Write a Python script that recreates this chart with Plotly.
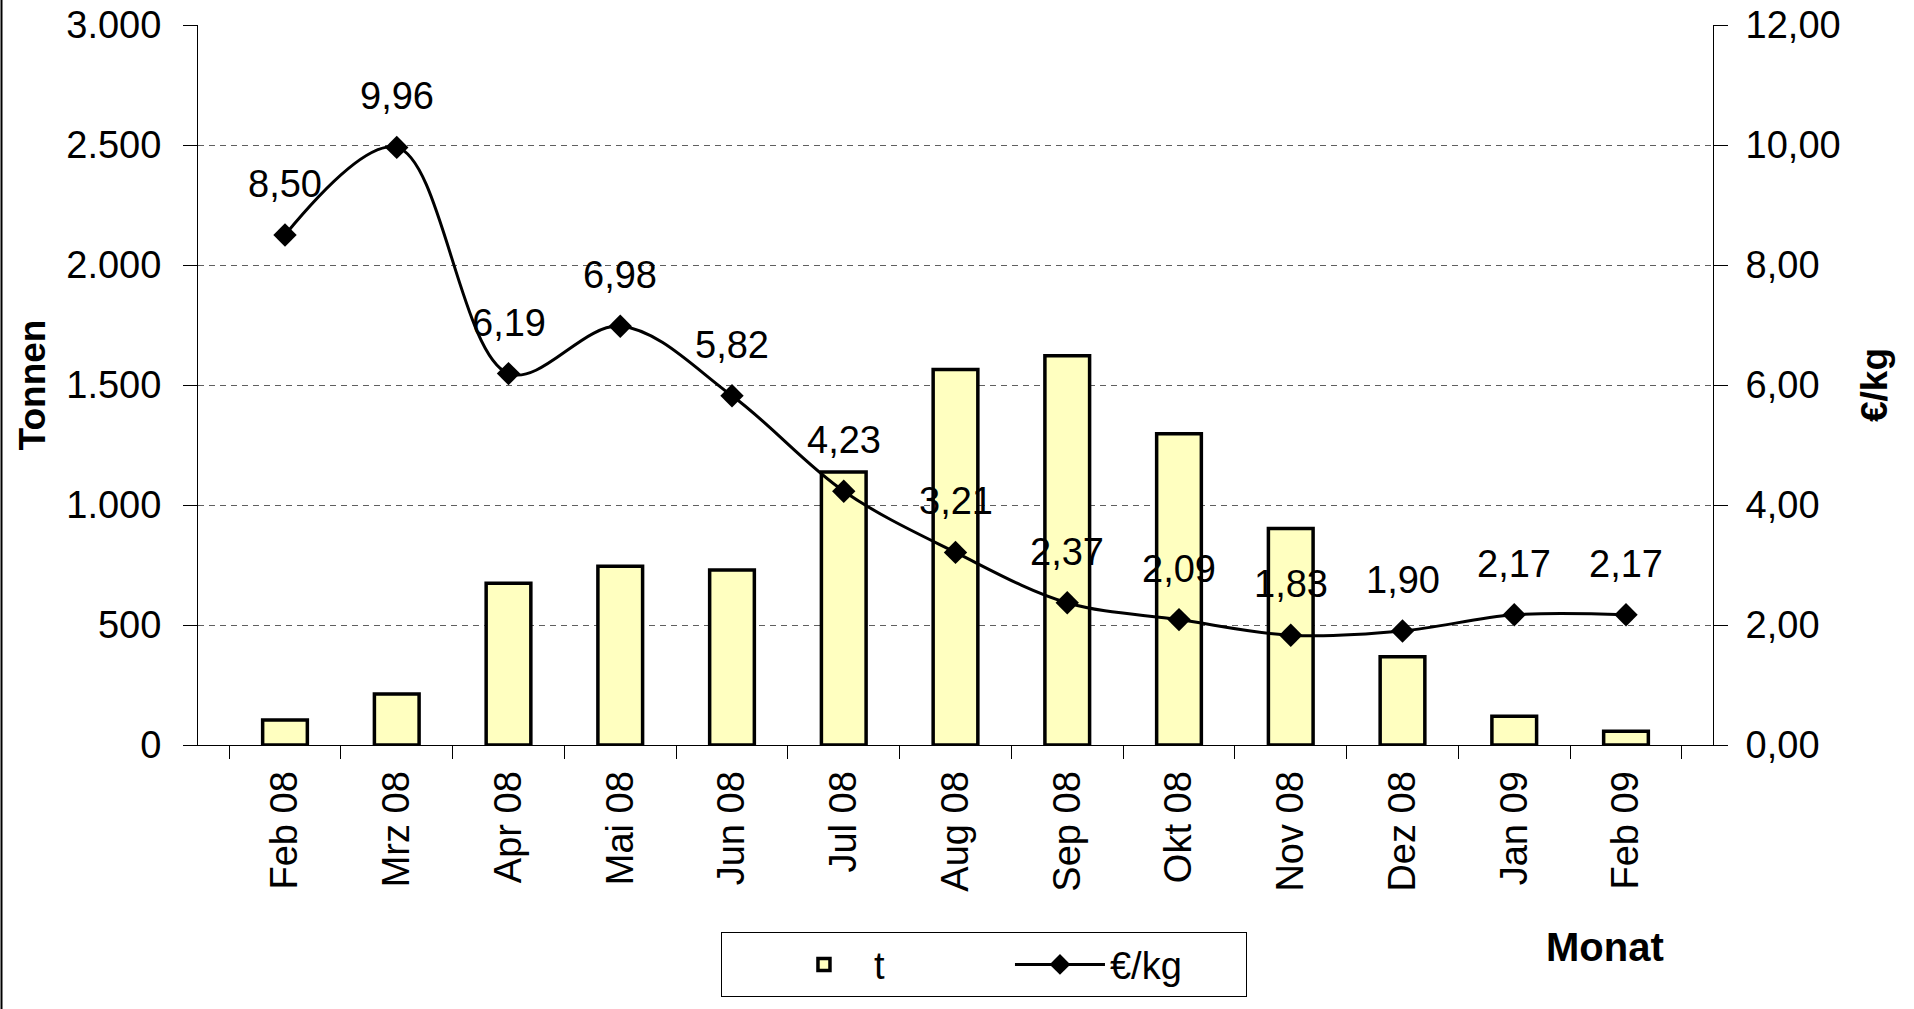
import plotly.graph_objects as go

monate = ["Feb 08", "Mrz 08", "Apr 08", "Mai 08", "Jun 08", "Jul 08", "Aug 08",
          "Sep 08", "Okt 08", "Nov 08", "Dez 08", "Jan 09", "Feb 09"]
tonnen = [104, 212, 674, 745, 729, 1138, 1565, 1622, 1297, 902, 368, 120, 57]
preis = [8.50, 9.96, 6.19, 6.98, 5.82, 4.23, 3.21, 2.37, 2.09, 1.83, 1.90, 2.17, 2.17]

schrift = "Liberation Sans, Arial, sans-serif"

fig = go.Figure()
fig.add_trace(go.Bar(x=monate, y=tonnen, name="t",
                     marker=dict(color="#FFFFC0", line=dict(color="black", width=3.5))))
fig.add_trace(go.Scatter(x=monate, y=preis, name="€/kg", yaxis="y2", mode="lines+markers",
                         line=dict(color="black", width=3, shape="spline", smoothing=1),
                         marker=dict(symbol="diamond", size=18, color="black")))

# Datenbeschriftungen ueber den Punkten
for m, p in zip(monate, preis):
    fig.add_annotation(x=m, y=p, yref="y2", text=f"{p:.2f}".replace(".", ","),
                       showarrow=False, yshift=51, font=dict(size=38))

fig.add_annotation(x=0.929, y=-0.28, xref="paper", yref="paper", text="<b>Monat</b>",
                   xanchor="center", yanchor="middle", showarrow=False, font=dict(size=40))

# linker Rahmen des Diagramms
fig.add_shape(type="line", xref="paper", yref="paper", x0=-0.1297, x1=-0.1297, y0=-0.37, y1=1.04,
              line=dict(color="black", width=2))

fig.update_layout(
    width=1914, height=1009,
    margin=dict(l=198, r=201, t=25, b=264),
    paper_bgcolor="white", plot_bgcolor="white",
    font=dict(family=schrift, size=38, color="black"),
    separators=",.",
    bargap=0.6,
    showlegend=True,
    legend=dict(orientation="h", x=0.519, xanchor="center", y=-0.26, yanchor="top",
                bordercolor="black", borderwidth=1, font=dict(size=38),
                itemwidth=90, entrywidth=131,
                title=dict(text="&nbsp;" * 15, side="left", font=dict(size=10))),
    xaxis=dict(showline=True, linecolor="black", ticks="outside", ticklen=13, tickcolor="black",
               tickson="boundaries", tickangle=-90, showgrid=False, ticklabelstandoff=10,
               automargin=False),
    yaxis=dict(range=[0, 3000], dtick=500, tickformat=",d", showline=True, linecolor="black",
               ticks="outside", ticklen=14, tickcolor="black", showgrid=True, gridcolor="#606060",
               griddash="6px,5px", zeroline=False, ticklabelstandoff=14, automargin=False,
               title=dict(text="<b>Tonnen</b>", standoff=9, font=dict(size=37))),
    yaxis2=dict(overlaying="y", side="right", range=[0, 12], dtick=2, tickformat=".2f",
                showline=True, linecolor="black", ticks="outside", ticklen=14, tickcolor="black",
                showgrid=False, zeroline=False, ticklabelstandoff=10, automargin=False,
                title=dict(text="<b>€/kg</b>", standoff=21, font=dict(size=37))),
)

fig.write_html("out.html", config={"displayModeBar": False},
               post_script="document.body.style.margin='0';")
